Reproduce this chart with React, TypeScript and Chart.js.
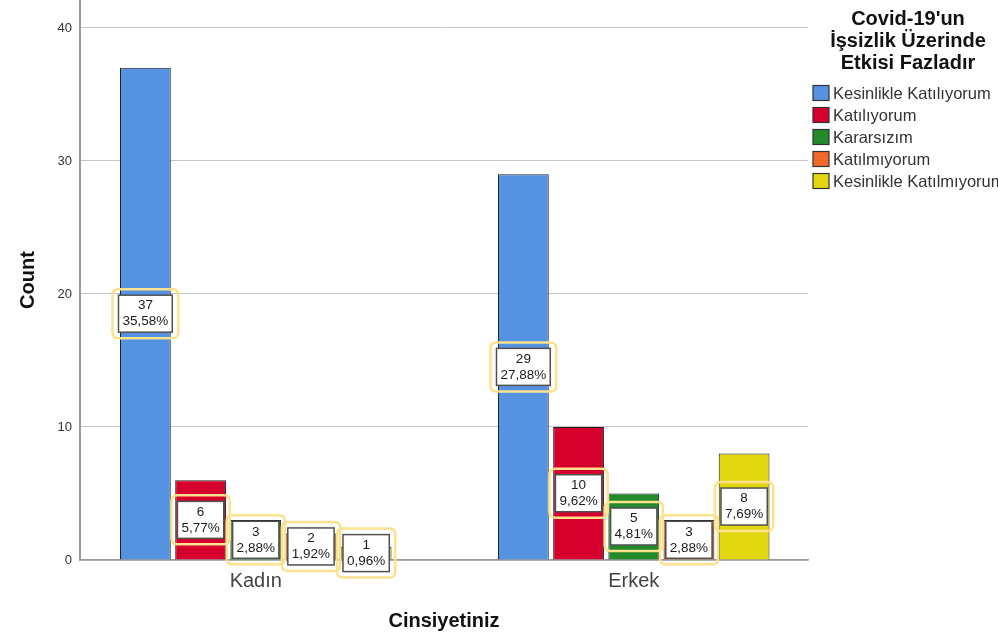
import React, { useEffect, useRef } from "react";
import { Chart, registerables } from "chart.js";

Chart.register(...registerables);

const categories = ["Kadın", "Erkek"];
const seriesNames = [
  "Kesinlikle Katılıyorum",
  "Katılıyorum",
  "Kararsızım",
  "Katılmıyorum",
  "Kesinlikle Katılmıyorum",
];
const kesinlikleKatiliyorum = [37, 29];
const katiliyorum = [6, 10];
const kararsizim = [3, 5];
const katilmiyorum = [2, 3];
const kesinlikleKatilmiyorum = [1, 8];
const seriesValues = [kesinlikleKatiliyorum, katiliyorum, kararsizim, katilmiyorum, kesinlikleKatilmiyorum];

const pctKesinlikleKatiliyorum = [35.58, 27.88];
const pctKatiliyorum = [5.77, 9.62];
const pctKararsizim = [2.88, 4.81];
const pctKatilmiyorum = [1.92, 2.88];
const pctKesinlikleKatilmiyorum = [0.96, 7.69];
const seriesPcts = [pctKesinlikleKatiliyorum, pctKatiliyorum, pctKararsizim, pctKatilmiyorum, pctKesinlikleKatilmiyorum];

const yTicks = [0, 10, 20, 30, 40];
const colors = ["#5593E1", "#D5002C", "#248B2C", "#F06A2A", "#E2D611"];
const legendTitle = ["Covid-19'un", "İşsizlik Üzerinde", "Etkisi Fazladır"];

const FONT = "'Liberation Sans', Arial, sans-serif";

function roundRect(ctx: CanvasRenderingContext2D, x: number, y: number, w: number, h: number, r: number) {
  ctx.beginPath();
  ctx.moveTo(x + r, y);
  ctx.lineTo(x + w - r, y);
  ctx.quadraticCurveTo(x + w, y, x + w, y + r);
  ctx.lineTo(x + w, y + h - r);
  ctx.quadraticCurveTo(x + w, y + h, x + w - r, y + h);
  ctx.lineTo(x + r, y + h);
  ctx.quadraticCurveTo(x, y + h, x, y + h - r);
  ctx.lineTo(x, y + r);
  ctx.quadraticCurveTo(x, y, x + r, y);
  ctx.closePath();
}

const labelPlugin = {
  id: "valueLabels",
  afterDatasetsDraw(chart: any) {
    const ctx = chart.ctx as CanvasRenderingContext2D;
    ctx.save();
    ctx.font = `13.5px ${FONT}`;
    chart.data.datasets.forEach((ds: any, di: number) => {
      const meta = chart.getDatasetMeta(di);
      meta.data.forEach((el: any, i: number) => {
        const v = seriesValues[di][i];
        const p = seriesPcts[di][i].toFixed(2).replace(".", ",") + "%";
        const cx = el.x;
        const cy = (el.y + el.base) / 2;
        const tw = Math.max(ctx.measureText(p).width, ctx.measureText(String(v)).width);
        const w = tw + 8;
        const h = 37;
        const x0 = cx - w / 2;
        const y0 = cy - h / 2;
        ctx.lineWidth = 2.5;
        ctx.strokeStyle = "#FCE28E";
        roundRect(ctx, x0 - 6, y0 - 6, w + 12, h + 12, 6);
        ctx.stroke();
        ctx.fillStyle = "#ffffff";
        ctx.fillRect(x0, y0, w, h);
        ctx.lineWidth = 1.5;
        ctx.strokeStyle = "#505050";
        ctx.strokeRect(x0, y0, w, h);
        ctx.fillStyle = "#1a1a1a";
        ctx.textAlign = "center";
        ctx.textBaseline = "middle";
        ctx.fillText(String(v), cx, cy - 8);
        ctx.fillText(p, cx, cy + 8);
      });
    });
    ctx.restore();
  },
};

const legendPlugin = {
  id: "customLegend",
  afterDraw(chart: any) {
    const ctx = chart.ctx as CanvasRenderingContext2D;
    ctx.save();
    ctx.fillStyle = "#111111";
    ctx.font = `bold 20px ${FONT}`;
    ctx.textAlign = "center";
    ctx.textBaseline = "middle";
    legendTitle.forEach((t, i) => ctx.fillText(t, 908, 19 + i * 22));
    ctx.font = `16.5px ${FONT}`;
    ctx.textAlign = "left";
    seriesNames.forEach((n, i) => {
      const cy = 93 + i * 22;
      ctx.fillStyle = colors[i];
      ctx.fillRect(813, cy - 7.5, 16, 15);
      ctx.lineWidth = 1.2;
      ctx.strokeStyle = "#333333";
      ctx.strokeRect(813, cy - 7.5, 16, 15);
      ctx.fillStyle = "#333333";
      ctx.fillText(n, 833, cy + 1);
    });
    ctx.restore();
  },
};

export default function App() {
  const ref = useRef<HTMLCanvasElement>(null);
  useEffect(() => {
    if (!ref.current) return;
    const chart = new Chart(ref.current, {
      type: "bar",
      data: {
        datasets: seriesNames.map((name, di) => ({
          label: name,
          data: seriesValues[di].map((v, i) => ({ x: i, y: v })),
          backgroundColor: colors[di],
          borderColor: "#222222",
          borderWidth: 1,
          categoryPercentage: 0.73,
          barPercentage: 0.92,
        })),
      },
      options: {
        animation: false,
        responsive: false,
        devicePixelRatio: 1,
        layout: { padding: { left: 0, right: 190, top: 0, bottom: 0 } },
        plugins: { legend: { display: false }, tooltip: { enabled: false } },
        scales: {
          x: {
            type: "linear",
            offset: false,
            min: -0.465,
            max: 1.461,
            afterBuildTicks: (s: any) => {
              s.ticks = categories.map((_, i) => ({ value: i }));
            },
            afterFit: (s: any) => {
              s.height = 81;
              s.paddingLeft = 0;
              s.paddingRight = 0;
            },
            grid: { display: false, drawTicks: false, offset: false },
            border: { display: true, color: "#9a9a9a", width: 1.5 },
            ticks: {
              autoSkip: false,
              maxRotation: 0,
              padding: 9,
              color: "#444444",
              font: { family: FONT, size: 20 },
              callback: (v: any) => categories[v] ?? "",
            },
            title: {
              display: true,
              text: "Cinsiyetiniz",
              color: "#111111",
              font: { family: FONT, size: 20, weight: "bold" },
              padding: { top: 0, bottom: 8 },
            },
          },
          y: {
            min: 0,
            max: 42.1,
            afterBuildTicks: (s: any) => {
              s.ticks = yTicks.map((v) => ({ value: v }));
            },
            afterFit: (s: any) => {
              s.width = 80;
              s.paddingTop = 0;
              s.paddingBottom = 0;
            },
            grid: { color: "#c4c4c4", lineWidth: 1, drawTicks: false },
            border: { display: true, color: "#9a9a9a", width: 2 },
            ticks: {
              padding: 8,
              color: "#333333",
              font: { family: FONT, size: 13 },
            },
            title: {
              display: true,
              text: "Count",
              color: "#111111",
              font: { family: FONT, size: 20, weight: "bold" },
              padding: { top: 16, bottom: 0 },
            },
          },
        },
      } as any,
      plugins: [labelPlugin, legendPlugin],
    });
    return () => chart.destroy();
  }, []);
  return (
    <div style={{ position: "absolute", left: 0, top: 0, width: 998, height: 641, background: "#fff" }}>
      <canvas ref={ref} width={998} height={641} style={{ width: 998, height: 641 }} />
    </div>
  );
}
